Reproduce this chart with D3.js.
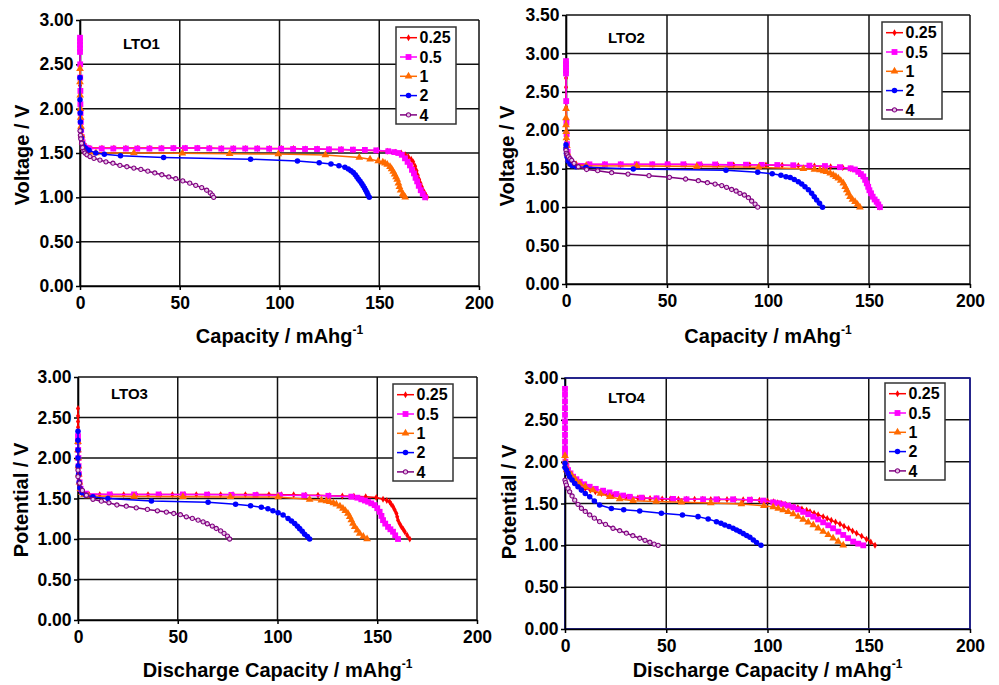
<!DOCTYPE html>
<html><head><meta charset="utf-8">
<script src="https://cdn.jsdelivr.net/npm/d3@7"></script>
<style>
body{margin:0;background:#fff}
svg{display:block}
text{font-family:"Liberation Sans",Arial,Helvetica,sans-serif;font-weight:bold;fill:#000}
</style>
</head><body>
<svg id="c" width="999" height="685"></svg>
<script>
// ---------------- DATA ----------------
const rates = ["0.25","0.5","1","2","4"];
const panelNames = ["LTO1","LTO2","LTO3","LTO4"];
const xTickValues = [0,50,100,150,200];
const yTicks300 = [0,0.5,1,1.5,2,2.5,3];
const yTicks350 = [0,0.5,1,1.5,2,2.5,3,3.5];
const yTitles = ["Voltage / V","Voltage / V","Potential / V","Potential / V"];
const xTitles = ["Capacity / mAhg","Capacity / mAhg","Discharge Capacity / mAhg","Discharge Capacity / mAhg"];
const xTitleSup = "-1";

// LTO1  [capacity mAh/g, voltage V]
const lto1_r025 = [[0,2.26],[0,2.22],[0,2.18],[0.1,2.12],[0.15,2.05],[0.2,1.98],[0.3,1.9],[0.5,1.8],[0.8,1.7],[1.3,1.62],[2,1.58],[3,1.56],[5,1.555],[11,1.555],[17,1.555],[23,1.555],[29,1.555],[35,1.555],[41,1.555],[47,1.555],[53,1.555],[59,1.555],[65,1.555],[71,1.55],[77,1.55],[83,1.55],[89,1.55],[95,1.55],[101,1.55],[107,1.55],[113,1.545],[119,1.545],[125,1.54],[131,1.54],[137,1.535],[143,1.53],[149,1.525],[154,1.52],[158,1.51],[161,1.5],[163,1.48],[164.5,1.46],[166,1.43],[167,1.4],[168,1.35],[168.7,1.3],[169.3,1.25],[170,1.2],[170.7,1.16],[171.3,1.12],[172,1.08],[172.8,1.05],[173.4,1.02],[174,1.0]];
const lto1_r05 = [[0,2.8],[0,2.76],[0,2.72],[0,2.68],[0,2.64],[0.1,2.5],[0.1,2.35],[0.2,2.2],[0.2,2.05],[0.3,1.95],[0.4,1.85],[0.6,1.76],[0.9,1.68],[1.3,1.62],[2,1.58],[3,1.56],[4.7,1.55],[10.9,1.55],[16.7,1.55],[23,1.55],[28.7,1.55],[34.8,1.55],[40.8,1.552],[46.8,1.555],[52.6,1.555],[58.8,1.555],[64.8,1.552],[70.8,1.55],[76.8,1.55],[82.8,1.55],[88.8,1.55],[94.8,1.548],[100.8,1.548],[106.8,1.545],[112.8,1.545],[118.8,1.545],[124.8,1.542],[130.8,1.54],[136.8,1.538],[142.8,1.535],[148.5,1.53],[154.5,1.52],[157.5,1.51],[159.6,1.5],[161.3,1.48],[162.9,1.44],[164.2,1.4],[165.4,1.36],[166.4,1.31],[167.4,1.27],[168.2,1.22],[169,1.18],[169.8,1.13],[170.8,1.08],[171.8,1.04],[173,1.0]];
const lto1_r1 = [[0,2.45],[0,2.3],[0.1,2.15],[0.2,2.0],[0.3,1.9],[0.5,1.8],[0.8,1.7],[1.3,1.62],[2,1.56],[3,1.53],[5,1.51],[8,1.5],[27,1.5],[51.3,1.497],[75,1.492],[99.4,1.488],[123,1.478],[140,1.45],[145.4,1.43],[149.5,1.41],[151.8,1.395],[152.9,1.385],[154,1.37],[155.4,1.345],[156.2,1.32],[157,1.29],[157.7,1.26],[158.4,1.23],[159,1.2],[159.6,1.16],[160.1,1.12],[160.7,1.08],[161.8,1.04],[162.2,1.02],[163,1.0]];
const lto1_r2 = [[0,2.35],[0,2.1],[0.1,1.95],[0.2,1.85],[0.4,1.75],[0.7,1.67],[1.2,1.61],[2,1.57],[3,1.55],[4.5,1.53],[7.9,1.5],[12.2,1.487],[20.3,1.47],[41.9,1.45],[85.5,1.43],[109,1.41],[119.9,1.39],[125.8,1.375],[129.8,1.355],[132.8,1.34],[134.5,1.32],[135.8,1.3],[137,1.28],[138,1.255],[138.8,1.23],[139.6,1.205],[140.4,1.18],[141.2,1.155],[141.9,1.13],[142.6,1.105],[143.2,1.08],[143.8,1.055],[144.3,1.03],[145,1.0]];
const lto1_r4 = [[0,1.75],[0.2,1.7],[0.4,1.66],[0.8,1.61],[1.3,1.56],[2,1.52],[2.5,1.5],[3.5,1.48],[5,1.46],[7,1.44],[10,1.42],[13,1.4],[16.5,1.385],[20,1.36],[23.5,1.345],[27,1.33],[30.5,1.315],[34,1.295],[37.5,1.275],[41,1.255],[44.5,1.23],[48,1.21],[51.5,1.185],[55,1.16],[58,1.135],[61,1.11],[63.5,1.08],[65.3,1.05],[66.3,1.025],[67,1.0]];

// LTO2
const lto2_r025 = [[0,2.68],[0,2.56],[0.1,2.3],[0.2,2.1],[0.3,1.95],[0.5,1.8],[0.8,1.7],[1.3,1.62],[2,1.58],[3,1.565],[5,1.56],[11,1.555],[19,1.555],[27,1.555],[35,1.555],[43,1.555],[51,1.555],[59,1.555],[67,1.553],[75,1.552],[83,1.55],[91,1.55],[99,1.548],[107,1.545],[115,1.54],[123,1.535],[131,1.525],[137,1.515],[141,1.5],[144,1.47],[146.3,1.42],[148,1.37],[149.3,1.3],[150.5,1.22],[152,1.14],[153.5,1.08],[154.5,1.04],[155.3,1.0]];
const lto2_r05 = [[0,2.9],[0,2.86],[0,2.82],[0,2.78],[0,2.74],[0.1,2.38],[0.2,2.1],[0.3,1.95],[0.5,1.82],[0.8,1.72],[1.3,1.63],[2,1.59],[2.8,1.57],[11.6,1.557],[19.3,1.557],[27.1,1.557],[35,1.557],[42.7,1.557],[50.3,1.557],[58.1,1.557],[66,1.555],[73.8,1.555],[81.2,1.553],[89.1,1.552],[96.9,1.55],[104.6,1.548],[112.5,1.545],[120.5,1.54],[128.2,1.535],[135.6,1.52],[140.9,1.505],[143,1.49],[144.7,1.46],[146,1.43],[147.2,1.4],[148.1,1.355],[148.9,1.31],[149.6,1.265],[150.2,1.22],[151,1.18],[151.8,1.136],[152.8,1.1],[153.8,1.07],[154.6,1.035],[155.4,1.0]];
const lto2_r1 = [[0,2.28],[0,2.16],[0,2.07],[0.1,1.98],[0.2,1.9],[0.4,1.8],[0.7,1.7],[1.2,1.62],[2,1.57],[3,1.55],[5,1.545],[10,1.54],[35,1.535],[64.7,1.53],[95.4,1.518],[117.5,1.5],[123,1.49],[125.7,1.483],[127.5,1.47],[129,1.46],[130.8,1.44],[132.3,1.418],[133.6,1.395],[134.8,1.375],[136,1.345],[137.3,1.31],[138.2,1.265],[139,1.223],[139.8,1.18],[140.6,1.136],[141.8,1.1],[143.1,1.07],[144.3,1.035],[145.5,1.0]];
const lto2_r2 = [[0,1.81],[0,1.76],[0.2,1.7],[0.5,1.656],[1,1.6],[2,1.56],[3,1.54],[5,1.525],[9.9,1.518],[33.3,1.496],[79.2,1.479],[94.9,1.453],[102.1,1.435],[106.4,1.414],[108.9,1.395],[111,1.385],[113,1.36],[115,1.33],[116.7,1.3],[118.3,1.266],[120,1.225],[121.6,1.18],[122.9,1.135],[124.1,1.093],[125.5,1.05],[127,1.0]];
const lto2_r4 = [[0,1.74],[0.3,1.7],[0.6,1.68],[1.2,1.656],[2,1.63],[2.8,1.61],[4,1.57],[6.1,1.526],[10.2,1.49],[15.7,1.474],[22.6,1.448],[30.7,1.43],[41.1,1.41],[51.2,1.388],[59.2,1.366],[65.5,1.344],[70,1.318],[73.8,1.3],[77.1,1.28],[79.5,1.258],[82,1.23],[84.2,1.21],[86.1,1.18],[88.3,1.158],[90.3,1.123],[91.9,1.08],[93.6,1.04],[94.9,1.0]];

// LTO3
const lto3_r025 = [[0,2.61],[0,2.52],[0,2.45],[0,2.38],[0.1,2.3],[0.1,2.2],[0.2,2.1],[0.2,2.0],[0.3,1.9],[0.5,1.8],[0.8,1.7],[1.3,1.62],[2,1.58],[3,1.56],[5.5,1.55],[10.9,1.548],[16.7,1.548],[22.9,1.548],[29.2,1.548],[35.1,1.548],[41.3,1.548],[47.3,1.548],[53.5,1.548],[59.3,1.548],[65.5,1.548],[71.5,1.548],[77.7,1.548],[83.9,1.548],[89.7,1.548],[95.7,1.548],[101.9,1.545],[108.1,1.545],[114.1,1.54],[120.3,1.54],[126.1,1.535],[132.5,1.532],[138.3,1.529],[144.2,1.522],[149.5,1.513],[152.9,1.49],[154.8,1.475],[156.2,1.46],[157,1.43],[157.9,1.4],[158.7,1.36],[159.6,1.315],[160,1.275],[160.4,1.233],[161.2,1.19],[162.1,1.15],[163,1.12],[163.8,1.09],[165,1.045],[166.3,1.0]];
const lto3_r05 = [[0,2.27],[0,2.2],[0.1,2.1],[0.2,2.0],[0.3,1.9],[0.5,1.8],[0.8,1.7],[1.3,1.62],[2,1.58],[4,1.56],[15.9,1.55],[28.1,1.55],[40.4,1.55],[52.6,1.55],[64.7,1.548],[76.9,1.545],[89,1.543],[101.1,1.54],[113.4,1.537],[125.5,1.533],[137,1.523],[140,1.51],[142,1.49],[143.8,1.475],[145.4,1.46],[147,1.44],[148.7,1.418],[150,1.38],[151.2,1.336],[152.1,1.285],[152.9,1.233],[154,1.19],[155.4,1.15],[156.6,1.12],[157.9,1.09],[159,1.045],[160.4,1.0]];
const lto3_r1 = [[0,2.2],[0,2.1],[0.1,2.0],[0.2,1.9],[0.4,1.8],[0.7,1.7],[1.2,1.62],[2,1.57],[3,1.545],[5,1.53],[28.1,1.525],[52.6,1.522],[76.4,1.52],[100.3,1.518],[116.1,1.488],[122,1.478],[124.5,1.47],[126.2,1.46],[128,1.445],[129.5,1.43],[131.3,1.405],[132.8,1.377],[134,1.35],[135.3,1.315],[136.2,1.275],[137,1.233],[137.8,1.19],[138.7,1.15],[140,1.108],[141.2,1.068],[143,1.03],[144.9,1.0]];
const lto3_r2 = [[0,2.33],[0,2.22],[0,2.1],[0,2.0],[0.1,1.9],[0.3,1.8],[0.6,1.7],[1,1.63],[2,1.57],[4,1.54],[7.5,1.52],[15,1.5],[36.8,1.47],[65.2,1.455],[79,1.43],[86.5,1.41],[91.9,1.393],[95.2,1.373],[97.7,1.35],[100.3,1.323],[102.8,1.295],[105.3,1.254],[107,1.222],[108.6,1.19],[110,1.158],[111.1,1.128],[112.4,1.095],[113.6,1.06],[115,1.03],[116.1,1.0]];
const lto3_r4 = [[0,1.85],[0,1.77],[0.8,1.69],[2.2,1.6],[4.2,1.54],[7.5,1.49],[11.7,1.467],[15.5,1.447],[19.5,1.42],[24.2,1.405],[29.2,1.385],[34.8,1.365],[39.8,1.348],[44.3,1.332],[48,1.315],[51.3,1.3],[54.3,1.274],[57.3,1.254],[60.2,1.233],[62.7,1.212],[64.8,1.188],[67.3,1.16],[69.3,1.13],[71.5,1.1],[73.2,1.07],[74.9,1.036],[76,1.0]];

// LTO4
const lto4_r025 = [[0,2.0],[0,1.95],[0.3,1.9],[1,1.86],[2,1.82],[3,1.79],[4.5,1.76],[6,1.73],[8,1.7],[10,1.68],[12.5,1.66],[15,1.64],[18,1.62],[21,1.605],[24,1.595],[27,1.585],[30,1.578],[33,1.57],[36,1.565],[39,1.562],[42,1.56],[45,1.558],[48,1.555],[52,1.553],[56,1.552],[60,1.551],[64,1.55],[68,1.55],[72,1.549],[76,1.548],[80,1.548],[84,1.547],[88,1.546],[92,1.545],[96,1.54],[100,1.53],[103,1.52],[105,1.51],[107,1.5],[109,1.488],[111,1.474],[113,1.462],[115,1.45],[117,1.435],[119.3,1.42],[121,1.403],[123,1.385],[125,1.365],[127.5,1.343],[129.5,1.322],[131.5,1.3],[133.6,1.278],[135.8,1.255],[137.8,1.228],[140,1.2],[142,1.172],[144,1.145],[146.5,1.11],[148.9,1.073],[151,1.04],[153.1,1.0]];
const lto4_r05 = [[0,2.87],[0,2.8],[0,2.72],[0,2.64],[0,2.56],[0,2.48],[0,2.4],[0,2.32],[0,2.24],[0,2.16],[0,2.1],[0.2,2.0],[0.7,1.95],[1.5,1.9],[2.7,1.86],[4,1.82],[5.6,1.79],[7.3,1.76],[9.5,1.73],[12.2,1.7],[15.2,1.675],[18.8,1.653],[22,1.632],[25.4,1.613],[28.7,1.595],[32,1.58],[37.8,1.57],[45.2,1.562],[53.4,1.555],[60,1.55],[68.2,1.55],[74.8,1.55],[83,1.55],[91.3,1.545],[97.9,1.535],[102.8,1.514],[105.3,1.503],[107.7,1.49],[110.2,1.474],[112.7,1.455],[115.1,1.43],[117.6,1.4],[120.1,1.372],[122.6,1.343],[125,1.31],[127.5,1.275],[130,1.24],[132.4,1.204],[135,1.164],[137.4,1.124],[139.8,1.085],[142.3,1.045],[144.8,1.02],[147.3,1.0]];
const lto4_r1 = [[0,2.07],[0,2.0],[0.2,1.95],[0.8,1.9],[1.8,1.87],[3.2,1.84],[5,1.79],[7.3,1.74],[10,1.7],[13.8,1.66],[17.5,1.62],[22.1,1.58],[27,1.555],[33.6,1.534],[45,1.525],[57.5,1.515],[72,1.505],[87.1,1.494],[98.2,1.474],[102.8,1.458],[105.3,1.44],[107.7,1.422],[110.2,1.4],[112.7,1.375],[115.1,1.343],[117.6,1.31],[120.1,1.277],[122.6,1.244],[125,1.204],[127.5,1.164],[130,1.125],[132.4,1.085],[134.9,1.045],[137.4,1.0]];
const lto4_r2 = [[0,1.98],[0,1.93],[0.7,1.9],[1.5,1.86],[2.3,1.82],[3.5,1.78],[4.8,1.74],[6.4,1.7],[8.1,1.66],[10,1.62],[12.2,1.58],[14.5,1.53],[17.1,1.482],[22.9,1.44],[29,1.425],[36.9,1.41],[47.6,1.383],[58,1.363],[65.7,1.343],[70.7,1.315],[74.8,1.283],[77,1.265],[78.9,1.244],[81,1.225],[83,1.204],[84.7,1.184],[86.3,1.164],[88,1.14],[89.7,1.118],[91.3,1.097],[93,1.065],[94.6,1.035],[96.8,1.0]];
const lto4_r4 = [[0,1.78],[0.3,1.75],[0.7,1.72],[1.5,1.68],[2.3,1.64],[3.5,1.59],[4.8,1.54],[6.4,1.49],[8.1,1.443],[10,1.405],[12.2,1.363],[14.5,1.325],[17.1,1.283],[20,1.25],[23.7,1.204],[27,1.175],[30.3,1.145],[33.5,1.115],[36.9,1.085],[39.5,1.06],[41.9,1.037],[44,1.015],[46,1.0]];

const panelSeries = [
  [lto1_r025, lto1_r05, lto1_r1, lto1_r2, lto1_r4],
  [lto2_r025, lto2_r05, lto2_r1, lto2_r2, lto2_r4],
  [lto3_r025, lto3_r05, lto3_r1, lto3_r2, lto3_r4],
  [lto4_r025, lto4_r05, lto4_r1, lto4_r2, lto4_r4]
];
const panelYTicks = [yTicks300, yTicks350, yTicks300, yTicks300];

// ---------------- STYLE / LAYOUT ----------------
const colors = ["#ff0000","#ff00ff","#ff6a00","#0000ff","#800080"];
const symbols = [d3.symbolDiamond, d3.symbolSquare, d3.symbolTriangle, d3.symbolCircle, d3.symbolCircle];
const symSizes = [14, 34, 26, 24, 14];
const purpleFill = "#e8c8e8";
const layouts = [
  {l:80, r:479, t:20, b:286, yTitleX:29, yTitleY:155, xTitleY:343, label:[123,49], legend:[396,27]},
  {l:566, r:970, t:15, b:284, yTitleX:514, yTitleY:156, xTitleY:343, label:[608,43], legend:[882,22]},
  {l:78, r:477, t:377, b:620, yTitleX:28, yTitleY:500, xTitleY:677, label:[111,399], legend:[393,384]},
  {l:565, r:970, t:378, b:629, yTitleX:516, yTitleY:502, xTitleY:677, label:[608,403], legend:[885,383], frame:"#1c1c9c"}
];

const svg = d3.select("#c");

layouts.forEach((L, i) => {
  const g = svg.append("g");
  const yt = panelYTicks[i];
  const x = d3.scaleLinear().domain([xTickValues[0], xTickValues[xTickValues.length-1]]).range([L.l, L.r]);
  const y = d3.scaleLinear().domain([0, yt[yt.length-1]]).range([L.b, L.t]);

  // gridlines
  g.append("g").selectAll("line").data(yt).join("line")
    .attr("x1", L.l).attr("x2", L.r).attr("y1", d => y(d)).attr("y2", d => y(d))
    .attr("stroke", "#111").attr("stroke-width", 1.5);
  g.append("g").selectAll("line").data(xTickValues).join("line")
    .attr("x1", d => x(d)).attr("x2", d => x(d)).attr("y1", L.t).attr("y2", L.b)
    .attr("stroke", "#111").attr("stroke-width", 1.5);
  if (L.frame) {
    g.append("rect").attr("x", L.l).attr("y", L.t).attr("width", L.r - L.l).attr("height", L.b - L.t)
      .attr("fill", "none").attr("stroke", L.frame).attr("stroke-width", 1.6);
  }

  // axes
  const ya = g.append("g").attr("transform", `translate(${L.l},0)`)
    .call(d3.axisLeft(y).tickValues(yt).tickFormat(d3.format(".2f")).tickSize(4).tickSizeOuter(0).tickPadding(2.5));
  const xa = g.append("g").attr("transform", `translate(0,${L.b})`)
    .call(d3.axisBottom(x).tickValues(xTickValues).tickFormat(d3.format("d")).tickSize(4).tickSizeOuter(0).tickPadding(7));
  [ya, xa].forEach(a => {
    a.select(".domain").attr("stroke", "#000").attr("stroke-width", 1.6);
    a.selectAll(".tick line").attr("stroke", "#000").attr("stroke-width", 1.5);
    a.selectAll(".tick text").attr("font-size", 17.5).attr("font-weight", "bold")
      .attr("font-family", "'Liberation Sans', Arial, sans-serif").attr("fill", "#000");
  });

  // series
  const line = d3.line().x(d => x(d[0])).y(d => y(d[1]));
  panelSeries[i].forEach((s, k) => {
    const sg = g.append("g");
    sg.append("path").datum(s).attr("d", line).attr("fill", "none")
      .attr("stroke", colors[k]).attr("stroke-width", 1.5);
    const sym = d3.symbol().type(symbols[k]).size(symSizes[k]);
    sg.selectAll("path.m").data(s).join("path").attr("class", "m")
      .attr("transform", d => `translate(${x(d[0])},${y(d[1])})`)
      .attr("d", sym)
      .attr("fill", k === 4 ? purpleFill : colors[k])
      .attr("stroke", k === 4 ? colors[k] : "none")
      .attr("stroke-width", k === 4 ? 1.1 : 0);
  });

  // panel label
  g.append("text").attr("x", L.label[0]).attr("y", L.label[1]).attr("font-size", 15).text(panelNames[i]);

  // axis titles
  const xt = g.append("text").attr("x", (L.l + L.r) / 2).attr("y", L.xTitleY)
    .attr("text-anchor", "middle").attr("font-size", 20);
  xt.append("tspan").text(xTitles[i]);
  xt.append("tspan").attr("dy", -9).attr("font-size", 12).text(xTitleSup);
  g.append("text").attr("transform", `translate(${L.yTitleX},${L.yTitleY}) rotate(-90)`)
    .attr("text-anchor", "middle").attr("font-size", 20).text(yTitles[i]);

  // legend
  const lg = g.append("g").attr("transform", `translate(${L.legend[0]},${L.legend[1]})`);
  lg.append("rect").attr("width", 60).attr("height", 97).attr("fill", "#fff")
    .attr("stroke", "#333").attr("stroke-width", 1.5);
  rates.forEach((r, k) => {
    const yy = 10.7 + k * 19.3;
    lg.append("line").attr("x1", 4).attr("x2", 21).attr("y1", yy).attr("y2", yy)
      .attr("stroke", colors[k]).attr("stroke-width", 1.5);
    lg.append("path").attr("transform", `translate(12.5,${yy})`)
      .attr("d", d3.symbol().type(symbols[k]).size(symSizes[k]))
      .attr("fill", k === 4 ? purpleFill : colors[k])
      .attr("stroke", k === 4 ? colors[k] : "none").attr("stroke-width", k === 4 ? 1.1 : 0);
    lg.append("text").attr("x", 23.5).attr("y", yy + 5.6).attr("font-size", 16).text(r);
  });
});
</script>
</body></html>
